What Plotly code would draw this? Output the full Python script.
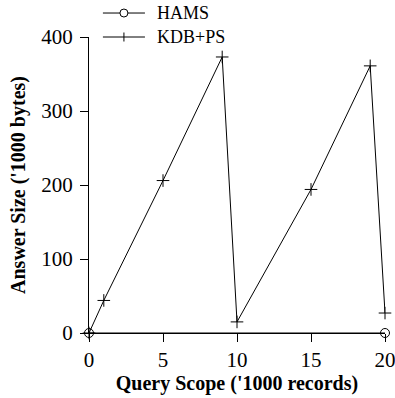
import plotly.graph_objects as go

# Query scope in thousands of records, answer size in thousands of bytes
hams_scope = [0, 20]
hams_size = [0, 0]

kdb_scope = [0, 1, 5, 9, 10, 15, 19, 20]
kdb_size = [0, 44, 206, 373, 15, 194, 361, 27]

x_ticks = [0, 5, 10, 15, 20]
y_ticks = [0, 100, 200, 300, 400]

series_names = ["HAMS", "KDB+PS"]

serif = "Liberation Serif, Times New Roman, serif"

fig = go.Figure()
fig.add_trace(go.Scatter(
    x=hams_scope, y=hams_size, name=series_names[0], mode="lines+markers",
    line=dict(color="black", width=1),
    marker=dict(symbol="circle-open", size=9, color="black", line=dict(width=1)),
    cliponaxis=False,
))
fig.add_trace(go.Scatter(
    x=kdb_scope, y=kdb_size, name=series_names[1], mode="lines+markers",
    line=dict(color="black", width=1),
    marker=dict(symbol="cross-thin-open", size=9, color="black",
                line=dict(width=1, color="black")),
    cliponaxis=False,
))

# Key drawn above the plot area (paper coordinates)
key_rows = [1.081, 1.0]
key_line = (0.047, 0.189)
key_symbol_x = 0.118
key_text_x = 0.223
shapes = []
annotations = []
for row, name in zip(key_rows, series_names):
    shapes.append(dict(type="line", xref="paper", yref="paper",
                       x0=key_line[0], x1=key_line[1], y0=row, y1=row,
                       line=dict(color="black", width=1)))
    annotations.append(dict(xref="paper", yref="paper", x=key_text_x, y=row,
                            text=name, showarrow=False, xanchor="left",
                            yanchor="middle",
                            font=dict(family=serif, size=18, color="black")))
# open circle for HAMS
shapes.append(dict(type="circle", xref="paper", yref="paper",
                   xsizemode="pixel", ysizemode="pixel",
                   xanchor=key_symbol_x, yanchor=key_rows[0],
                   x0=-4, x1=4, y0=-4, y1=4,
                   fillcolor="white", line=dict(color="black", width=1)))
# vertical stroke for KDB+PS
shapes.append(dict(type="line", xref="paper", yref="paper",
                   xsizemode="pixel", ysizemode="pixel",
                   xanchor=key_symbol_x, yanchor=key_rows[1],
                   x0=0, x1=0, y0=-4.5, y1=4.5,
                   line=dict(color="black", width=1)))

fig.update_layout(
    width=395, height=398,
    margin=dict(l=89, r=10, t=37, b=65),
    paper_bgcolor="white", plot_bgcolor="white",
    font=dict(family=serif, color="black", size=21),
    showlegend=False,
    shapes=shapes,
    annotations=annotations,
    xaxis=dict(
        range=[0, 20], tickvals=x_ticks, ticks="outside", ticklen=8,
        tickcolor="black", showline=True, linecolor="black", linewidth=1,
        showgrid=False, zeroline=False, mirror=False, automargin=False,
        tickfont=dict(family=serif, size=21), ticklabeloverflow="allow",
        title=dict(text="<b>Query Scope ('1000 records)</b>",
                   font=dict(family=serif, size=20), standoff=2),
    ),
    yaxis=dict(
        range=[0, 400], tickvals=y_ticks, ticks="outside", ticklen=8,
        tickcolor="black", showline=True, linecolor="black", linewidth=1,
        showgrid=False, zeroline=False, mirror=False, automargin=False,
        tickfont=dict(family=serif, size=21), ticklabelstandoff=3,
        title=dict(text="<b>Answer Size ('1000 bytes)</b>",
                   font=dict(family=serif, size=20), standoff=10),
    ),
)

fig.write_html("out.html")
